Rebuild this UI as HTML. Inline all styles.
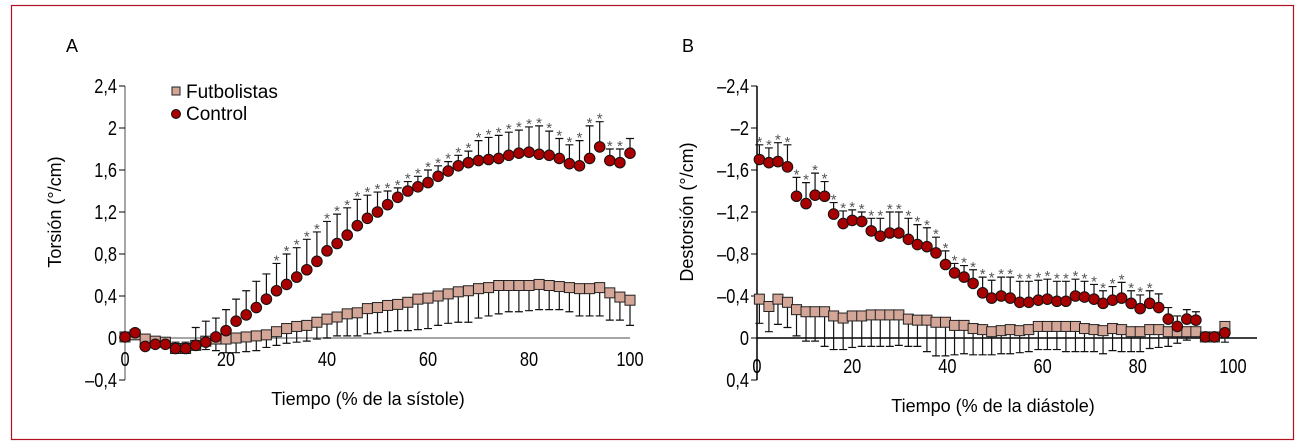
<!DOCTYPE html>
<html><head><meta charset="utf-8"><style>
html,body{margin:0;padding:0;background:#fff;}
svg{display:block;font-family:"Liberation Sans",sans-serif;}
</style></head><body>
<svg id="chart" width="1303" height="447" viewBox="0 0 1303 447">
<rect x="11.5" y="5.5" width="1282" height="434" fill="none" stroke="#b01020" stroke-width="1.2"/>
<g id="pA"></g>
<g id="pB"></g>
</svg>
<script>
// Panel A data
const xA = [0,2,4,6,8,10,12,14,16,18,20,22,24,26,28,30,32,34,36,38,40,42,44,46,48,50,52,54,56,58,60,62,64,66,68,70,72,74,76,78,80,82,84,86,88,90,92,94,96,98,100];
const ctrlA = [0.01,0.05,-0.08,-0.06,-0.06,-0.1,-0.1,-0.07,-0.04,0.01,0.07,0.16,0.22,0.29,0.37,0.45,0.51,0.58,0.65,0.73,0.83,0.9,0.98,1.07,1.14,1.2,1.27,1.34,1.4,1.44,1.48,1.54,1.59,1.64,1.67,1.69,1.7,1.71,1.74,1.76,1.77,1.75,1.74,1.71,1.66,1.64,1.71,1.82,1.69,1.67,1.76];
const ctrlAUp = [0.03,0.07,-0.05,-0.02,-0.01,-0.04,-0.04,0.1,0.16,0.19,0.27,0.37,0.45,0.54,0.61,0.71,0.8,0.86,0.94,1.01,1.11,1.18,1.24,1.32,1.36,1.39,1.4,1.43,1.49,1.54,1.6,1.64,1.68,1.74,1.78,1.88,1.91,1.93,1.96,1.98,2.01,2.02,1.97,1.9,1.84,1.88,2.02,2.06,1.8,1.8,1.9];
const futA = [0.01,0.03,-0.01,-0.03,-0.04,-0.1,-0.1,-0.07,-0.03,-0.01,-0.01,0,0.01,0.02,0.03,0.06,0.09,0.11,0.12,0.15,0.18,0.2,0.23,0.24,0.28,0.29,0.31,0.32,0.34,0.37,0.38,0.4,0.42,0.44,0.45,0.47,0.48,0.5,0.5,0.5,0.5,0.51,0.5,0.49,0.48,0.47,0.47,0.48,0.43,0.39,0.36];
const futALow = [0,0.01,-0.04,-0.06,-0.07,-0.12,-0.12,-0.1,-0.11,-0.12,-0.14,-0.14,-0.13,-0.12,-0.09,-0.07,-0.05,-0.04,-0.03,-0.01,0,0.02,0.02,0.02,0.04,0.05,0.06,0.07,0.07,0.08,0.09,0.12,0.14,0.15,0.15,0.19,0.21,0.23,0.25,0.25,0.26,0.27,0.27,0.27,0.25,0.21,0.21,0.21,0.17,0.17,0.12];
const starsA = [30,32,34,36,38,40,42,44,46,48,50,52,54,56,58,60,62,64,66,68,70,72,74,76,78,80,82,84,86,88,90,92,94,96,98];
const yTicksA = [2.4,2,1.6,1.2,0.8,0.4,0,-0.4];
const yTickLabelsA = ["2,4","2","1,6","1,2","0,8","0,4","0","\u20130,4"];
const xTicks = [0,20,40,60,80,100];

// Panel B data (values as plotted, negative = up)
const xB = [0.5,2.5,4.4,6.4,8.3,10.3,12.2,14.2,16.1,18.1,20,22,24,25.9,27.9,29.8,31.8,33.7,35.7,37.6,39.6,41.5,43.5,45.4,47.4,49.3,51.3,53.2,55.2,57.1,59.1,61,63,64.9,66.9,68.8,70.8,72.7,74.7,76.6,78.6,80.5,82.5,84.4,86.4,88.3,90.3,92.2,94.2,96.1,98.3];
const ctrlB = [-1.70,-1.67,-1.68,-1.63,-1.35,-1.28,-1.36,-1.35,-1.18,-1.09,-1.12,-1.11,-1.02,-0.97,-1.0,-1.0,-0.94,-0.89,-0.87,-0.81,-0.70,-0.62,-0.58,-0.52,-0.43,-0.38,-0.40,-0.38,-0.34,-0.34,-0.36,-0.37,-0.35,-0.35,-0.40,-0.39,-0.37,-0.33,-0.36,-0.38,-0.33,-0.28,-0.33,-0.29,-0.18,-0.11,-0.18,-0.17,-0.01,-0.01,-0.05];
const ctrlBUp = [-1.84,-1.81,-1.86,-1.84,-1.53,-1.48,-1.57,-1.49,-1.29,-1.21,-1.22,-1.2,-1.14,-1.14,-1.2,-1.2,-1.14,-1.08,-1.05,-0.96,-0.83,-0.71,-0.69,-0.65,-0.58,-0.55,-0.58,-0.58,-0.54,-0.54,-0.55,-0.56,-0.54,-0.54,-0.56,-0.54,-0.51,-0.45,-0.49,-0.53,-0.45,-0.41,-0.45,-0.42,-0.29,-0.21,-0.27,-0.25,-0.02,-0.02,0.04];
const futB = [-0.37,-0.30,-0.37,-0.34,-0.27,-0.25,-0.25,-0.25,-0.21,-0.19,-0.21,-0.21,-0.22,-0.22,-0.22,-0.22,-0.18,-0.17,-0.17,-0.15,-0.15,-0.12,-0.12,-0.09,-0.08,-0.06,-0.07,-0.08,-0.07,-0.08,-0.11,-0.11,-0.11,-0.11,-0.11,-0.09,-0.08,-0.07,-0.09,-0.08,-0.06,-0.06,-0.08,-0.08,-0.06,-0.06,-0.06,-0.06,-0.01,-0.01,-0.11];
const futBLow = [-0.14,-0.06,-0.13,-0.1,-0.02,0.03,0.03,0.08,0.11,0.11,0.09,0.08,0.08,0.08,0.08,0.07,0.08,0.08,0.13,0.17,0.17,0.16,0.15,0.16,0.16,0.16,0.15,0.15,0.14,0.13,0.11,0.11,0.11,0.13,0.13,0.13,0.13,0.15,0.12,0.13,0.13,0.13,0.1,0.09,0.08,0.05,0.02,0,0,0,-0.01];
const starsBIdx = [0,1,2,3,4,5,6,7,8,9,10,11,12,13,14,15,16,17,18,19,20,21,22,23,24,25,26,27,28,29,30,31,32,33,34,35,36,37,38,39,40,41,42];
const yTicksB = [-2.4,-2,-1.6,-1.2,-0.8,-0.4,0,0.4];
const yTickLabelsB = ["\u20132,4","\u20132","\u20131,6","\u20131,2","\u20130,8","\u20130,4","0","0,4"];

const NS = "http://www.w3.org/2000/svg";
function mk(parent, tag, attrs, text){
  const e = document.createElementNS(NS, tag);
  for (const k in attrs) e.setAttribute(k, attrs[k]);
  if (text !== undefined) e.textContent = text;
  parent.appendChild(e);
  return e;
}

function drawPanel(g, cfg){
  const X = v => cfg.x0 + (v/100)*(cfg.x1-cfg.x0);
  const Y = v => cfg.yZero + (cfg.invert ? 1 : -1) * v * cfg.perUnit;
  let e = mk(g,'line',{x1:cfg.x0,y1:Y(cfg.yTicks[0]),x2:cfg.x0,y2:Y(cfg.yTicks[cfg.yTicks.length-1]),stroke:cfg.axisColor,'stroke-width':1.5});
   
  e = mk(g,'line',{x1:cfg.x0,y1:cfg.yZero,x2:cfg.xAxisEnd,y2:cfg.yZero,stroke:cfg.axisColor,'stroke-width':1.5});
   
  cfg.yTicks.forEach((t,i)=>{
    const tk = mk(g,'line',{x1:cfg.x0-6,y1:Y(t),x2:cfg.x0,y2:Y(t),stroke:'#000','stroke-width':1});
     
    const tl = mk(g,'text',{x:cfg.x0-8,y:Y(t)+7,'text-anchor':'end','font-size':20,transform:`translate(${cfg.x0-8} 0) scale(0.82 1) translate(${-(cfg.x0-8)} 0)`},cfg.yLabels[i]);
     
  });
  xTicks.forEach(t=>{
    const tl = mk(g,'text',{x:X(t),y:cfg.xLabelY,'text-anchor':'middle','font-size':20,transform:`translate(${X(t)} 0) scale(0.82 1) translate(${-X(t)} 0)`},String(t));
     
  });
  cfg.fut.forEach((v,i)=>{
    const x = X(cfg.xs[i]);
    const eb = mk(g,'path',{d:`M${x} ${Y(v)}V${Y(cfg.futLow[i])}M${x-4} ${Y(cfg.futLow[i])}H${x+4}`,stroke:'#111','stroke-width':1.2,fill:'none'});
     
  });
  cfg.ctrl.forEach((v,i)=>{
    const x = X(cfg.xs[i]);
    const eb = mk(g,'path',{d:`M${x} ${Y(v)}V${Y(cfg.ctrlUp[i])}M${x-4} ${Y(cfg.ctrlUp[i])}H${x+4}`,stroke:'#111','stroke-width':1.2,fill:'none'});
     
  });
  cfg.fut.forEach((v,i)=>{
    const x = X(cfg.xs[i]);
    const sq = mk(g,'rect',{x:x-5,y:Y(v)-5,width:10,height:10,fill:'#d3a697',stroke:'#222','stroke-width':1});
     
  });
  cfg.ctrl.forEach((v,i)=>{
    const x = X(cfg.xs[i]);
    const c = mk(g,'circle',{cx:x,cy:Y(v),r:5.3,fill:'#a80000',stroke:'#111','stroke-width':1});
     
  });
  cfg.stars.forEach(i=>{
    const x = X(cfg.xs[i]);
    const s = mk(g,'text',{x:x,y:Y(cfg.ctrlUp[i])+2,'text-anchor':'middle','font-size':15,fill:'#555'},'*');
     
  });
}

drawPanel(document.getElementById('pA'),{
  x0:125,x1:630,xAxisEnd:630,yZero:338,perUnit:105,invert:false,axisColor:'#888',
  yTicks:yTicksA,yLabels:yTickLabelsA,xLabelY:366,
  xs:xA,ctrl:ctrlA,ctrlUp:ctrlAUp,fut:futA,futLow:futALow,
  stars:starsA.map(s=>xA.indexOf(s))
});
drawPanel(document.getElementById('pB'),{
  x0:757,x1:1233,xAxisEnd:1257,yZero:338,perUnit:105,invert:true,axisColor:'#000',
  yTicks:yTicksB,yLabels:yTickLabelsB,xLabelY:373,
  xs:xB,ctrl:ctrlB,ctrlUp:ctrlBUp,fut:futB,futLow:futBLow,
  stars:starsBIdx
});
</script>
<script>
(function(){
  const svg = document.getElementById('chart');
  const NS = "http://www.w3.org/2000/svg";
  function t(x,y,s,size,name,rot){
    const e = document.createElementNS(NS,'text');
    e.setAttribute('x',x); e.setAttribute('y',y); e.setAttribute('font-size',size);
    e.setAttribute('text-anchor','middle');
    if(rot) e.setAttribute('transform',`rotate(-90 ${x} ${y})`);
    e.textContent = s;
    
    
    svg.appendChild(e);
  }
  t(72,52,'A',18,'panel-a-label');
  t(688,52,'B',18,'panel-b-label');
  t(368,405,'Tiempo (% de la sístole)',18,'x-axis-title-a');
  t(993,412,'Tiempo (% de la diástole)',18,'x-axis-title-b');
  t(61,212,'Torsión (°/cm)',18,'y-axis-title-a',true);
  t(693,212,'Destorsión (°/cm)',18,'y-axis-title-b',true);
  const sq = document.createElementNS(NS,'rect');
  sq.setAttribute('x',172); sq.setAttribute('y',87); sq.setAttribute('width',8); sq.setAttribute('height',8);
  sq.setAttribute('fill','#d3a697'); sq.setAttribute('stroke','#222');
  
  
  svg.appendChild(sq);
  const c = document.createElementNS(NS,'circle');
  c.setAttribute('cx',176); c.setAttribute('cy',114); c.setAttribute('r',4.5);
  c.setAttribute('fill','#a80000'); c.setAttribute('stroke','#111');
  
  
  svg.appendChild(c);
  function lt(x,y,s,name){
    const e = document.createElementNS(NS,'text');
    e.setAttribute('x',x); e.setAttribute('y',y); e.setAttribute('font-size',19);
    e.textContent=s;
    
    
    svg.appendChild(e);
  }
  lt(186,98,'Futbolistas','legend-futbolistas-label');
  lt(186,120,'Control','legend-control-label');
})();
</script>
</body></html>
